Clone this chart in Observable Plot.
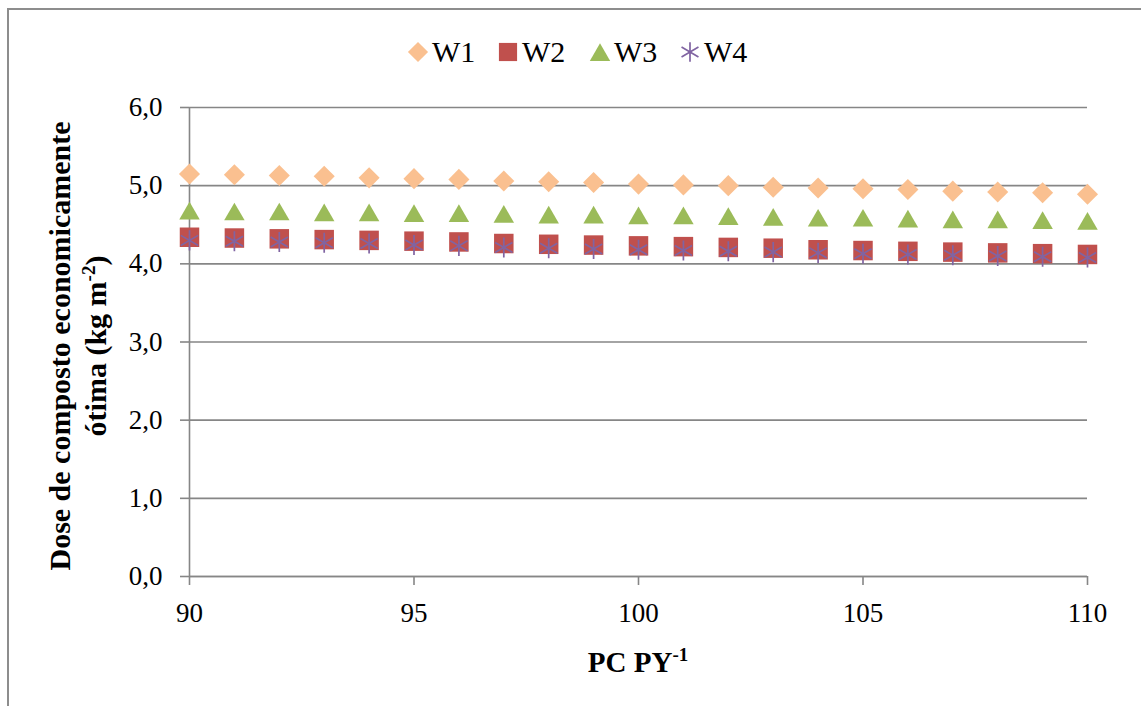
<!DOCTYPE html>
<html>
<head>
<meta charset="utf-8">
<script src="https://cdn.jsdelivr.net/npm/d3@7"></script>
<script src="https://cdn.jsdelivr.net/npm/@observablehq/plot@0.6"></script>
<style>
  html, body { margin: 0; padding: 0; background: white; }
  #wrap { position: relative; width: 1141px; height: 706px; overflow: hidden; }
  #frame { position: absolute; left: 7px; top: 8px; width: 1200px; height: 800px;
           border-top: 2px solid #8d8d8d; border-left: 2px solid #8d8d8d; pointer-events: none; }
  #chart { position: absolute; left: 0; top: 0; }
</style>
</head>
<body>
<div id="wrap"><div id="chart"></div><div id="frame"></div></div>
<script>
// ---- data ----
const pc = [90,91,92,93,94,95,96,97,98,99,100,101,102,103,104,105,106,107,108,109,110];
const w1 = [5.15,5.14,5.13,5.12,5.10,5.09,5.08,5.06,5.05,5.04,5.02,5.01,5.00,4.98,4.97,4.96,4.95,4.93,4.92,4.91,4.89];
const w2 = [4.34,4.33,4.32,4.31,4.30,4.29,4.28,4.26,4.25,4.24,4.23,4.22,4.21,4.20,4.18,4.17,4.16,4.15,4.14,4.13,4.12];
const w3 = [4.68,4.67,4.67,4.66,4.66,4.65,4.65,4.64,4.63,4.63,4.62,4.62,4.61,4.60,4.59,4.59,4.58,4.57,4.57,4.56,4.55];
const w4 = [4.30,4.29,4.28,4.27,4.26,4.24,4.23,4.21,4.20,4.19,4.18,4.17,4.16,4.15,4.14,4.13,4.12,4.11,4.10,4.09,4.08];
const seriesNames = ["W1","W2","W3","W4"];
const xTicks = [90,95,100,105,110];
const yTicks = [0,1,2,3,4,5,6];
const yTitle1 = "Dose de composto economicamente";
const yTitle2 = "ótima (kg m";
const yTitle2sup = "-2";
const xTitle = "PC PY";
const xTitleSup = "-1";

const colors = {W1:"#FAC090", W2:"#C0504D", W3:"#9BBB59", W4:"#8064A2"};
const gray = "#868686";
const font = "'Liberation Serif', 'Times New Roman', serif";

const rows = (arr) => pc.map((x, i) => ({x, y: arr[i]}));

const chart = Plot.plot({
  width: 1141,
  height: 706,
  marginTop: 107,
  marginBottom: 130,
  marginLeft: 189,
  marginRight: 54,
  x: {domain: [90, 110]},
  y: {domain: [0, 6]},
  style: {fontFamily: font, fontSize: "27px", color: "black", background: "white", overflow: "visible"},
  marks: [
    Plot.gridY({ticks: yTicks, stroke: gray, strokeOpacity: 1, strokeWidth: 1.6}),
    Plot.axisY({ticks: yTicks, tickSize: 9, tickPadding: 18, stroke: gray, strokeWidth: 1.6,
                tickFormat: d => d.toFixed(1).replace(".", ","), label: null}),
    Plot.axisX({ticks: xTicks, tickSize: 9, tickPadding: 17, stroke: gray, strokeWidth: 1.6,
                tickFormat: d => String(d), label: null}),
    Plot.ruleX([90], {y1: 0, y2: 6, stroke: gray, strokeWidth: 1.6}),
    Plot.ruleY([0], {stroke: gray, strokeWidth: 1.6}),
    Plot.dot(rows(w1), {x: "x", y: "y", symbol: "diamond2", r: 9.5, fill: colors.W1, stroke: "none"}),
    Plot.dot(rows(w2), {x: "x", y: "y", symbol: "square", r: 11, fill: colors.W2, stroke: "none"}),
    Plot.dot(rows(w3), {x: "x", y: "y", symbol: "triangle", r: 7.6, dy: 3, fill: colors.W3, stroke: "none"}),
    Plot.dot(rows(w4), {x: "x", y: "y", symbol: "asterisk", r: 9.5, fill: "none", stroke: colors.W4, strokeWidth: 1.7})
  ]
});
document.getElementById("chart").appendChild(chart);

// ---- titles and legend (real text) ----
const svg = d3.select(chart);

// y title
const yt = svg.append("g").attr("transform", "translate(0,346) rotate(-90)")
  .attr("font-family", font).attr("font-weight", "bold").attr("font-size", 30)
  .attr("fill", "black").attr("text-anchor", "middle");
yt.append("text").attr("x", 0).attr("y", 70).text(yTitle1);
const t2 = yt.append("text").attr("x", 0).attr("y", 106);
t2.append("tspan").text(yTitle2);
t2.append("tspan").attr("dy", -11).attr("font-size", 19).text(yTitle2sup);
t2.append("tspan").attr("dy", 11).text(")");

// x title
const xt = svg.append("text").attr("x", 638).attr("y", 672)
  .attr("font-family", font).attr("font-weight", "bold").attr("font-size", 29)
  .attr("fill", "black").attr("text-anchor", "middle");
xt.append("tspan").text(xTitle);
xt.append("tspan").attr("dy", -11).attr("font-size", 19).text(xTitleSup);

// legend
const legendSym = {W1: d3.symbolDiamond2, W2: d3.symbolSquare, W3: d3.symbolTriangle, W4: d3.symbolAsterisk};
const legendX = [418, 508, 600, 690];
const lg = svg.append("g").attr("font-family", font).attr("font-size", 30)
  .attr("fill", "black").attr("text-anchor", "start");
seriesNames.forEach((name, i) => {
  const cx = legendX[i], cy = 52;
  const size = name === "W1" ? 260 : name === "W2" ? 330 : name === "W3" ? 180 : 270;
  const p = lg.append("path")
    .attr("transform", `translate(${cx},${cy + (name === "W3" ? 3 : 0)})`)
    .attr("d", d3.symbol(legendSym[name], size)());
  if (name === "W4") p.attr("fill", "none").attr("stroke", colors[name]).attr("stroke-width", 1.7);
  else p.attr("fill", colors[name]);
  lg.append("text").attr("x", cx + 14).attr("y", cy + 10).text(name);
});
</script>
</body>
</html>
